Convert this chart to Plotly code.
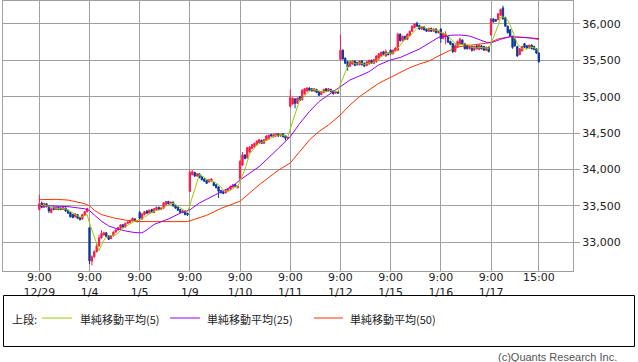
import plotly.graph_objects as go
import pandas as pd

# ---- data (15-minute bars, 21 bars per session, 9:00 ... 15:00) ----
day_labels = ["12/29", "1/4", "1/5", "1/9", "1/10", "1/11", "1/12", "1/15", "1/16", "1/17"]
bars_per_day = 21

open_ = [
    # 12/29
    33450, 33540, 33480, 33530, 33500, 33410, 33480, 33450, 33480, 33470, 33450,
    33470, 33440, 33410, 33380, 33350, 33380, 33340, 33320, 33370, 33420,
    # 1/4
    33200, 32740, 32800, 32870, 32950, 33060, 33100, 33130, 33090, 33050, 33090,
    33140, 33170, 33190, 33240, 33210, 33260, 33270, 33300, 33320, 33285,
    # 1/5
    33410, 33320, 33380, 33430, 33400, 33450, 33410, 33450, 33480, 33450, 33470,
    33520, 33560, 33530, 33550, 33500, 33480, 33450, 33410, 33430, 33400,
    # 1/9
    33700, 33930, 33960, 33910, 33940, 33900, 33870, 33850, 33830, 33840, 33820,
    33790, 33760, 33710, 33690, 33680, 33710, 33730, 33760, 33790, 33750,
    # 1/10
    33870, 34060, 34200, 34160, 34240, 34290, 34310, 34340, 34370, 34400, 34360,
    34400, 34420, 34480, 34450, 34460, 34490, 34460, 34490, 34460, 34430,
    # 1/11
    34870, 34900, 34970, 34910, 35000, 34960, 35040, 35080, 35120, 35110, 35080,
    35100, 35070, 35030, 35060, 35110, 35080, 35100, 35080, 35050, 35070,
    # 1/12
    35510, 35640, 35530, 35480, 35420, 35450, 35490, 35470, 35440, 35490, 35460,
    35430, 35450, 35500, 35460, 35480, 35520, 35560, 35620, 35560, 35600,
    # 1/15
    35640, 35590, 35630, 35640, 35860, 35770, 35830, 35790, 35840, 35900, 35950,
    36010, 35980, 35930, 35960, 35930, 35900, 35940, 35900, 35930, 35880,
    # 1/16
    35930, 35800, 35820, 35840, 35760, 35730, 35620, 35690, 35720, 35780, 35730,
    35700, 35660, 35690, 35640, 35700, 35650, 35700, 35690, 35640, 35680,
    # 1/17
    35850, 36070, 36060, 36060, 36120, 36220, 36090, 35970, 35920, 35830, 35790,
    35690, 35580, 35630, 35730, 35700, 35670, 35710, 35690, 35660, 35600,
]
high = [
    33650, 33560, 33545, 33540, 33505, 33470, 33490, 33490, 33490, 33480, 33490,
    33480, 33450, 33420, 33390, 33400, 33390, 33350, 33390, 33430, 33475,
    33210, 32820, 32890, 32990, 33100, 33165, 33145, 33140, 33100, 33100, 33150,
    33180, 33210, 33250, 33250, 33270, 33290, 33310, 33340, 33330, 33300,
    33430, 33400, 33430, 33440, 33450, 33460, 33470, 33490, 33490, 33480, 33550,
    33570, 33570, 33560, 33560, 33510, 33490, 33460, 33440, 33440, 33410,
    33990, 33990, 33970, 33950, 33950, 33910, 33880, 33860, 33870, 33880, 33830,
    33800, 33770, 33720, 33700, 33730, 33740, 33780, 33800, 33800, 33780,
    34130, 34240, 34210, 34310, 34320, 34350, 34370, 34400, 34420, 34410, 34420,
    34470, 34480, 34490, 34490, 34500, 34500, 34490, 34500, 34470, 34450,
    35095, 34990, 34980, 34990, 35010, 35100, 35120, 35130, 35130, 35120, 35120,
    35110, 35080, 35080, 35110, 35120, 35120, 35110, 35090, 35080, 35080,
    35850, 35650, 35540, 35490, 35490, 35500, 35500, 35480, 35500, 35500, 35470,
    35490, 35510, 35510, 35520, 35570, 35600, 35620, 35630, 35650, 35610,
    35650, 35650, 35680, 35880, 35870, 35840, 35840, 35870, 35910, 35980, 36010,
    36030, 35990, 35970, 35970, 35940, 35950, 35950, 35940, 35940, 35910,
    35940, 35880, 35900, 35850, 35770, 35740, 35730, 35770, 35810, 35790, 35740,
    35710, 35710, 35700, 35700, 35710, 35720, 35710, 35700, 35690, 35690,
    36080, 36080, 36070, 36150, 36210, 36250, 36100, 35980, 35930, 35840, 35810,
    35700, 35670, 35700, 35740, 35710, 35715, 35720, 35700, 35670, 35610,
]
low = [
    33440, 33470, 33470, 33480, 33400, 33400, 33440, 33445, 33440, 33440, 33445,
    33420, 33390, 33340, 33330, 33340, 33320, 33300, 33310, 33360, 33410,
    32700, 32680, 32790, 32860, 32940, 33050, 33090, 33070, 33030, 33040, 33080,
    33130, 33160, 33180, 33200, 33200, 33250, 33260, 33290, 33280, 33270,
    33300, 33310, 33370, 33390, 33390, 33400, 33400, 33440, 33440, 33440, 33460,
    33510, 33520, 33520, 33490, 33460, 33430, 33400, 33400, 33370, 33360,
    33690, 33920, 33900, 33900, 33880, 33850, 33830, 33800, 33820, 33830, 33770,
    33740, 33610, 33670, 33660, 33670, 33700, 33720, 33750, 33760, 33740,
    33850, 34050, 34140, 34150, 34230, 34280, 34300, 34330, 34360, 34350, 34350,
    34390, 34410, 34450, 34440, 34450, 34450, 34450, 34440, 34400, 34420,
    34850, 34890, 34840, 34900, 34940, 34950, 35030, 35070, 35080, 35070, 35070,
    35050, 35010, 35020, 35050, 35070, 35070, 35060, 35030, 35040, 35040,
    35500, 35510, 35450, 35360, 35410, 35440, 35420, 35430, 35430, 35430, 35410,
    35420, 35440, 35450, 35450, 35470, 35510, 35550, 35570, 35550, 35570,
    35580, 35580, 35620, 35630, 35760, 35760, 35780, 35780, 35830, 35890, 35940,
    35960, 35920, 35920, 35910, 35890, 35890, 35890, 35890, 35870, 35870,
    35740, 35790, 35720, 35740, 35710, 35600, 35610, 35680, 35710, 35710, 35650,
    35650, 35650, 35620, 35630, 35650, 35640, 35650, 35630, 35630, 35610,
    35840, 36020, 36030, 36050, 36110, 36060, 35960, 35870, 35820, 35660, 35690,
    35550, 35570, 35620, 35670, 35660, 35660, 35650, 35640, 35590, 35470,
]
close = [
    33530, 33480, 33530, 33490, 33430, 33460, 33450, 33480, 33450, 33450, 33480,
    33430, 33400, 33350, 33340, 33390, 33330, 33310, 33380, 33420, 33464,
    32745, 32800, 32870, 32950, 33060, 33120, 33130, 33080, 33040, 33090, 33140,
    33170, 33200, 33240, 33210, 33260, 33280, 33300, 33330, 33290, 33290,
    33330, 33390, 33420, 33400, 33440, 33410, 33460, 33480, 33450, 33470, 33540,
    33560, 33530, 33550, 33500, 33470, 33440, 33410, 33430, 33380, 33377,
    33960, 33970, 33910, 33940, 33890, 33860, 33840, 33810, 33860, 33870, 33780,
    33750, 33700, 33680, 33670, 33720, 33730, 33770, 33790, 33770, 33770,
    34110, 34200, 34150, 34300, 34310, 34340, 34360, 34390, 34410, 34360, 34410,
    34460, 34470, 34460, 34480, 34490, 34460, 34480, 34450, 34430, 34441,
    34990, 34980, 34910, 34980, 34950, 35090, 35110, 35120, 35090, 35080, 35110,
    35060, 35020, 35070, 35100, 35080, 35110, 35070, 35040, 35070, 35049,
    35640, 35520, 35460, 35410, 35480, 35490, 35430, 35440, 35490, 35440, 35420,
    35480, 35500, 35460, 35510, 35560, 35590, 35610, 35580, 35620, 35577,
    35590, 35640, 35670, 35860, 35770, 35830, 35790, 35860, 35900, 35970, 36000,
    35970, 35930, 35960, 35920, 35900, 35940, 35900, 35930, 35880, 35901,
    35800, 35870, 35860, 35750, 35720, 35620, 35700, 35760, 35790, 35720, 35660,
    35660, 35700, 35640, 35690, 35660, 35710, 35660, 35640, 35680, 35620,
    36070, 36030, 36040, 36140, 36200, 36070, 35970, 35880, 35830, 35680, 35700,
    35560, 35660, 35690, 35680, 35670, 35710, 35660, 35650, 35600, 35480,
]

# moving averages (bar index, value)
ma25_idx = [0, 7, 12, 19, 21, 23, 26, 29, 32, 36, 40, 43, 45, 48, 54, 59, 63, 67, 71, 76,
            81, 84, 92, 100, 105, 109, 113, 117, 123, 126, 130, 134, 138, 142, 147, 151,
            155, 159, 163, 167, 172, 176, 180, 184, 187, 189, 193, 197, 201, 205, 209]
ma25_val = [33505, 33500, 33490, 33460, 33435, 33375, 33290, 33225, 33190, 33155, 33133,
            33130, 33170, 33245, 33320, 33400, 33445, 33540, 33610, 33695, 33775, 33857,
            34040, 34290, 34452, 34635, 34796, 34933, 35070, 35130, 35231, 35286, 35345,
            35437, 35506, 35540, 35597, 35655, 35735, 35815, 35845, 35849, 35835, 35790,
            35750, 35740, 35790, 35826, 35820, 35815, 35800]
ma50_idx = [0, 7, 12, 19, 21, 23, 26, 31, 36, 40, 42, 62, 65, 70, 76, 84, 92, 100, 105,
            109, 113, 117, 121, 126, 130, 134, 138, 142, 147, 151, 155, 159, 163, 167,
            172, 176, 180, 184, 188, 192, 197, 201, 205, 209]
ma50_val = [33585, 33590, 33580, 33530, 33500, 33440, 33380, 33335, 33305, 33290, 33284,
            33284, 33316, 33370, 33465, 33565, 33790, 33990, 34090, 34246, 34406, 34521,
            34613, 34750, 34887, 35002, 35093, 35185, 35267, 35330, 35400, 35450, 35490,
            35560, 35640, 35690, 35710, 35720, 35740, 35795, 35825, 35820, 35810, 35785]

y_ticks = [33000, 33500, 34000, 34500, 35000, 35500, 36000]

RED = "#ff1a4d"
BLUE = "#0a3a9a"
C5 = "#99cc00"
C25 = "#9900ff"
C50 = "#ff3300"
GRID = "#a0a0a0"
TXT = "#222222"

bar_index = list(range(len(close)))
ma5 = pd.Series(close).rolling(5, min_periods=1).mean()

tickvals = [d * bars_per_day for d in range(len(day_labels))] + [len(close) - 1]
ticktext = [f"9:00<br>{d}" for d in day_labels] + ["15:00<br> "]

fig = go.Figure()
fig.add_trace(go.Candlestick(
    x=bar_index, open=open_, high=high, low=low, close=close,
    increasing=dict(line=dict(color=RED, width=1), fillcolor=RED),
    decreasing=dict(line=dict(color=BLUE, width=1), fillcolor=BLUE),
    whiskerwidth=0, hoverinfo="skip", showlegend=False,
))
fig.add_trace(go.Scatter(x=ma50_idx, y=ma50_val, mode="lines",
                         line=dict(color=C50, width=1), hoverinfo="skip", showlegend=False))
fig.add_trace(go.Scatter(x=ma25_idx, y=ma25_val, mode="lines",
                         line=dict(color=C25, width=1), hoverinfo="skip", showlegend=False))
fig.add_trace(go.Scatter(x=bar_index, y=ma5, mode="lines",
                         line=dict(color=C5, width=1), hoverinfo="skip", showlegend=False))

# plot area in pixels: x 3..573, y 1..271
L, R, T, B = 3, 65, 1, 91
W, H = 638, 362
PW, PH = W - L - R, H - T - B


def px(x):
    return (x - L) / PW


def py(y):
    return (T + PH - y) / PH


shapes = [dict(type="rect", xref="paper", yref="paper",
               x0=px(3.5), x1=px(634.5), y0=py(295.5), y1=py(346.5),
               line=dict(color="#000000", width=1), fillcolor="rgba(0,0,0,0)")]
legend_items = [(C5, 42, 72, 78, "単純移動平均(5)"),
                (C25, 170, 200, 205, "単純移動平均(25)"),
                (C50, 314, 343, 348, "単純移動平均(50)")]
annotations = [dict(text="上段:", x=px(10), y=py(318.5), xref="paper", yref="paper",
                    xanchor="left", yanchor="middle", showarrow=False,
                    font=dict(family="Noto Sans CJK JP", size=11, color=TXT))]
for col, x0, x1, tx, label in legend_items:
    shapes.append(dict(type="line", xref="paper", yref="paper", x0=px(x0), x1=px(x1),
                       y0=py(318), y1=py(318), line=dict(color=col, width=1)))
    annotations.append(dict(text=label, x=px(tx), y=py(318.5), xref="paper", yref="paper",
                            xanchor="left", yanchor="middle", showarrow=False,
                            font=dict(family="Noto Sans CJK JP", size=11, color=TXT)))
annotations.append(dict(text="(c)Quants Research Inc.", x=px(619), y=py(356.5),
                        xref="paper", yref="paper", xanchor="right", yanchor="middle",
                        showarrow=False,
                        font=dict(family="Liberation Sans", size=11, color="#555555")))

fig.update_layout(
    width=W, height=H, margin=dict(l=L, r=R, t=T, b=B, pad=0),
    paper_bgcolor="white", plot_bgcolor="white",
    boxgap=0.2, hovermode=False, showlegend=False,
    shapes=shapes, annotations=annotations,
    font=dict(family="DejaVu Sans", size=11, color=TXT),
    xaxis=dict(range=[-15.2, 223.3], tickmode="array", tickvals=tickvals, ticktext=ticktext,
               showgrid=True, gridcolor=GRID, gridwidth=1, showline=True, mirror=True,
               linecolor=GRID, linewidth=1, ticks="", zeroline=False,
               ticklabelstandoff=-4,
               rangeslider=dict(visible=False), tickfont=dict(size=11, color=TXT)),
    yaxis=dict(side="right", range=[32605, 36316], tickmode="array", tickvals=y_ticks,
               tickformat=",d", ticks="outside", ticklen=6, tickcolor=GRID,
               showgrid=True, gridcolor=GRID, gridwidth=1, showline=True, mirror=True,
               linecolor=GRID, linewidth=1, zeroline=False,
               tickfont=dict(size=11, color=TXT)),
)

fig.write_html("out.html", config={"displayModeBar": False},
               post_script="document.body.style.margin='0';")
